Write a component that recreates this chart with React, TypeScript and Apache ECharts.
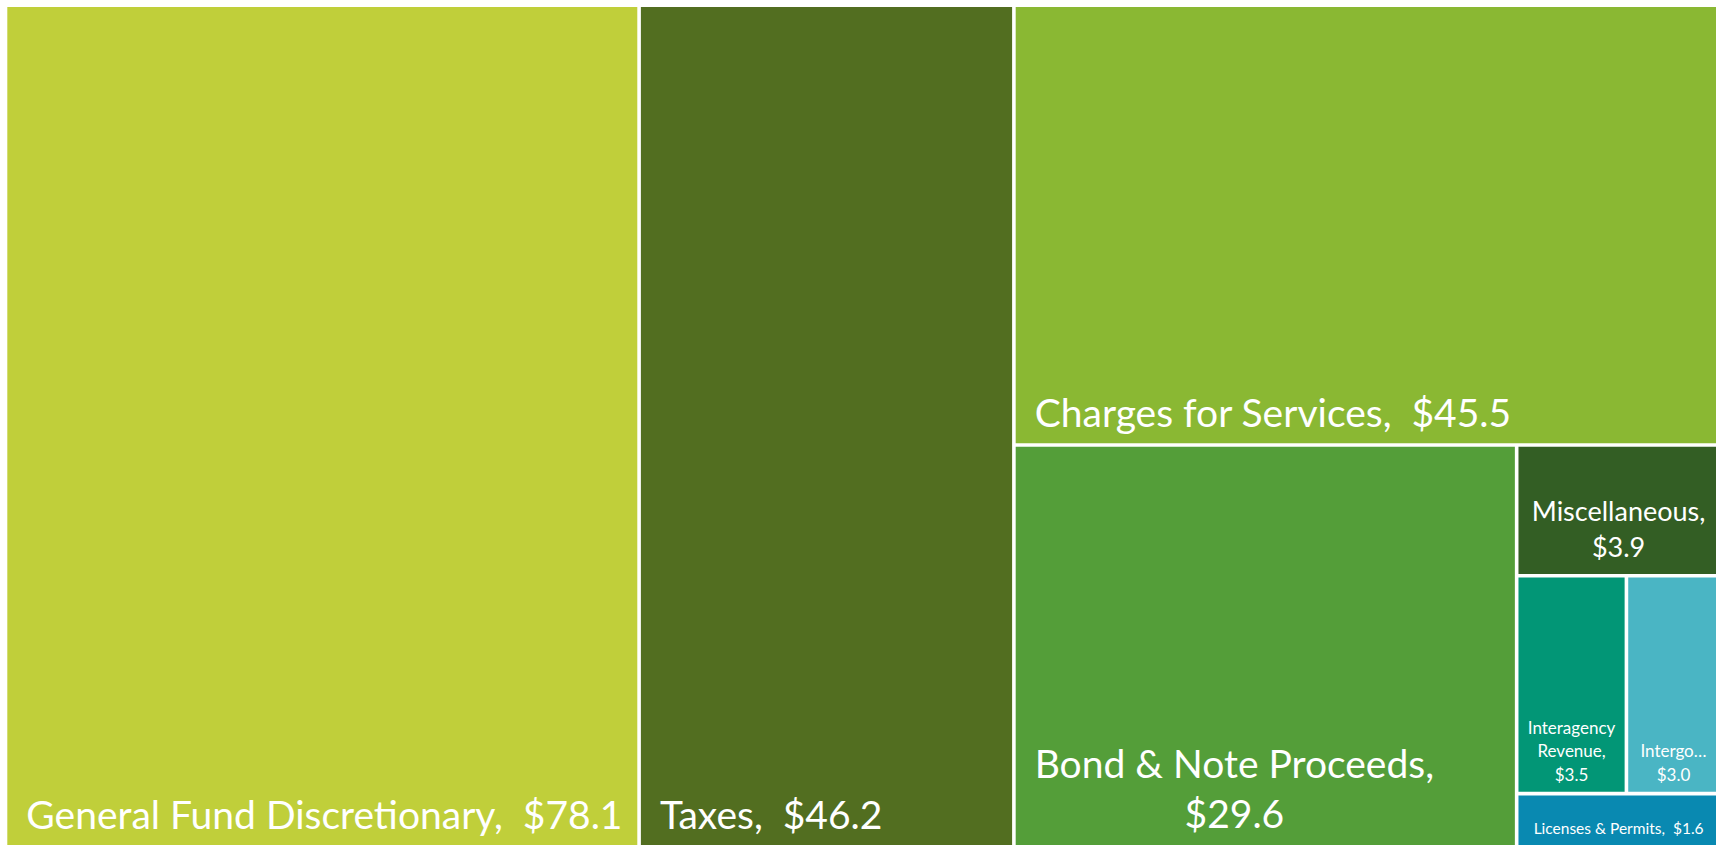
import React, { useEffect, useRef } from "react";
import * as echarts from "echarts";

// ---- data ----
const categories = [
  "General Fund Discretionary",
  "Taxes",
  "Charges for Services",
  "Bond & Note Proceeds",
  "Miscellaneous",
  "Interagency Revenue",
  "Intergovernmental Revenue",
  "Licenses & Permits",
];
const values = [78.1, 46.2, 45.5, 29.6, 3.9, 3.5, 3.0, 1.6];
const colors = [
  "#C0CF3A",
  "#526E20",
  "#8AB833",
  "#549E39",
  "#335E24",
  "#029676",
  "#4AB5C4",
  "#0989B1",
];

const FONT = "Lato";

const money = (v: number) => "$" + v.toFixed(1);

function labelText(name: string, value: number): string {
  const v = money(value);
  if (name === "Bond & Note Proceeds" || name === "Miscellaneous") return `${name},\n${v}`;
  if (name === "Interagency Revenue") return `${name.replace(" ", "\n")},\n${v}`;
  if (name === "Intergovernmental Revenue") return `${name.slice(0, 7)}\u2026\n${v}`;
  return `${name},  ${v}`;
}

function measure(text: string, size: number): number {
  const ctx = document.createElement("canvas").getContext("2d");
  if (!ctx) return text.length * size * 0.45;
  ctx.font = `${size}px ${FONT}`;
  return ctx.measureText(text).width;
}

function buildOption() {
  const big = 39;
  const leaf = (i: number, label: any) => ({
    name: categories[i],
    value: values[i],
    itemStyle: { color: colors[i], borderColor: "#ffffff", borderWidth: 1.8 },
    label,
  });
  const bigLabel = { position: "insideBottomLeft", fontSize: big, lineHeight: big, padding: [0, 0, 12, 19] };
  const bondLabel = {
    position: "insideBottomLeft",
    align: "center",
    fontSize: big,
    lineHeight: 50,
    padding: [0, 0, 7, 0],
    offset: [19 + measure("Bond & Note Proceeds,", big) / 2, 0],
  };
  const miscLabel = { position: "insideBottom", fontSize: 27, lineHeight: 36, padding: [0, 0, 9, 0] };
  const smallLabel = { position: "insideBottom", fontSize: 17, lineHeight: 23.5, padding: [0, 0, 6, 0] };
  const licLabel = { position: "insideBottom", fontSize: 15.5, lineHeight: 18, padding: [0, 0, 8, 0] };

  const data = [
    leaf(0, bigLabel),
    {
      name: "g1",
      children: [
        leaf(1, bigLabel),
        {
          name: "g2",
          children: [
            leaf(2, bigLabel),
            {
              name: "g3",
              children: [
                leaf(3, bondLabel),
                {
                  name: "g4",
                  children: [
                    leaf(4, miscLabel),
                    { name: "g5", children: [leaf(5, smallLabel), leaf(6, smallLabel)] },
                    leaf(7, licLabel),
                  ],
                },
              ],
            },
          ],
        },
      ],
    },
  ];

  return {
    animation: false,
    backgroundColor: "#ffffff",
    series: [
      {
        type: "treemap",
        left: 5.5,
        top: 5.2,
        width: 1715,
        height: 842,
        sort: false,
        squareRatio: 1.2,
        roam: false,
        nodeClick: false,
        breadcrumb: { show: false },
        visibleMin: 0,
        itemStyle: { borderWidth: 0, gapWidth: 0, borderColor: "#ffffff" },
        upperLabel: { show: false },
        label: {
          show: true,
          color: "#ffffff",
          fontFamily: FONT,
          overflow: "none",
          formatter: (p: any) => labelText(p.name, p.value),
        },
        emphasis: { disabled: true },
        data,
      },
    ],
  };
}

export default function App() {
  const ref = useRef<HTMLDivElement>(null);
  useEffect(() => {
    if (!ref.current) return;
    const chart = echarts.init(ref.current, undefined, { renderer: "svg" });
    chart.setOption(buildOption() as any);
    return () => chart.dispose();
  }, []);
  return (
    <div
      ref={ref}
      style={{ position: "fixed", left: 0, top: 0, width: 1716, height: 845, background: "#fff" }}
    />
  );
}
